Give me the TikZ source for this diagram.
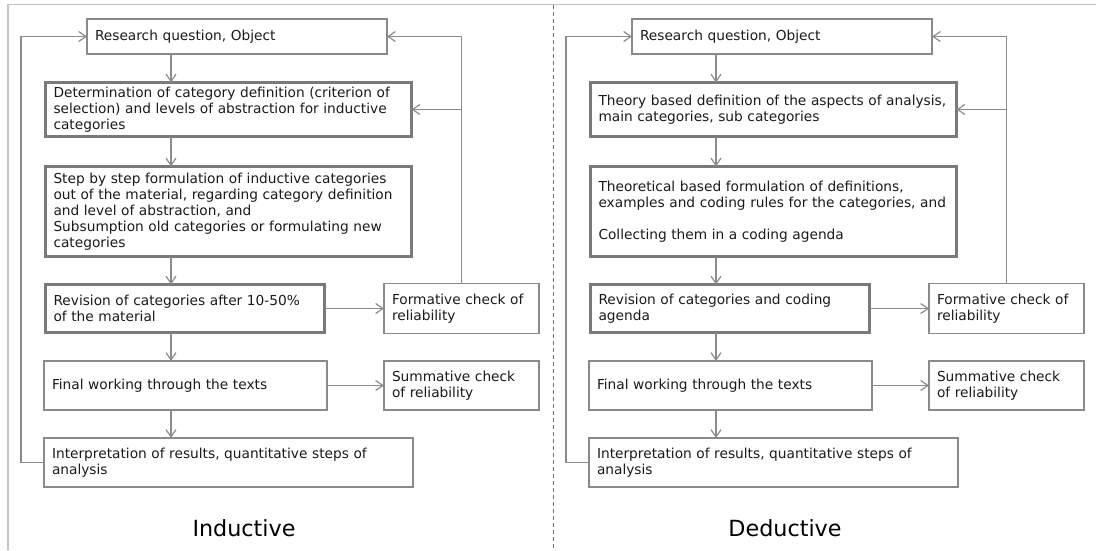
\documentclass[tikz,border=0pt]{standalone}
\usepackage{fontspec}
\setmainfont{DejaVu Sans}
\usetikzlibrary{arrows.meta}

\definecolor{boxline}{HTML}{8A8A8A}
\definecolor{heavyline}{HTML}{7A7A7A}
\definecolor{linkline}{HTML}{8C8C8C}
\definecolor{frameline}{HTML}{C4C4C4}
\definecolor{divline}{HTML}{6E6E6E}
\definecolor{ink}{HTML}{1A1A1A}

\tikzset{
  pbox/.style={draw=boxline, line width=1pt, rectangle, inner xsep=6pt, inner ysep=0pt,
    outer sep=0pt, align=left, text=ink, font=\fontsize{10.3pt}{12pt}\selectfont},
  hbox/.style={pbox, draw=heavyline, line width=2.25pt},
  sz/.style n args={3}{minimum width=#1pt, text width=#2pt, minimum height=#3pt},
  arr/.style={draw=linkline, line width=0.9pt, -{Straight Barb[length=5.5pt,width=7.5pt]}},
  frame/.style={draw=frameline, line width=1.1pt},
  divider/.style={draw=divline, line width=0.75pt, dash pattern=on 3pt off 2.25pt},
  caption/.style={text=black, font=\fontsize{16.7pt}{20pt}\selectfont, inner sep=0pt}
}

\begin{document}
\begin{tikzpicture}[x=0.75pt, y=-0.75pt]
\useasboundingbox (0,0) rectangle (1096,550);

% outer frame and panel divider
\draw[frame] (8,550) -- (8,4.5) -- (1096,4.5);
\draw[divider] (553,5) -- (553,550);

% ---------- inductive panel ----------
\node[pbox, sz={225}{213}{26.25}] (rq1) at (237,36.5) {Research question, Object};
\node[hbox, sz={274.5}{262.5}{40.5}] (det1) at (228.5,109.5)
  {Determination of category definition (criterion of\\ selection) and levels of abstraction for inductive\\ categories};
\node[hbox, sz={274.5}{262.5}{67.5}] (step1) at (228.5,211.5)
  {Step by step formulation of inductive categories\\ out of the material, regarding category definition\\ and level of abstraction, and\\ Subsumption old categories or formulating new\\ categories};
\node[hbox, sz={209.25}{197.25}{36}] (rev1) at (185,308.5)
  {Revision of categories after 10-50\%\\ of the material};
\node[pbox, sz={116.25}{104.25}{37.5}] (form1) at (461.5,308.5)
  {Formative check of\\ reliability};
\node[pbox, sz={212.25}{200.25}{36.75}] (fin1) at (185.5,385.5)
  {Final working through the texts};
\node[pbox, sz={116.25}{104.25}{36.75}] (sum1) at (461.5,385.5)
  {Summative check\\ of reliability};
\node[pbox, sz={276.75}{264.75}{36.75}] (int1) at (228.5,462.5)
  {Interpretation of results, quantitative steps of\\ analysis};
\node[caption] (lab1) at (244,528) {Inductive};

\coordinate (ax1) at (171,0);
\coordinate (lx1) at (21,0);
\draw[arr] (rq1.south -| ax1) -- (det1.north -| ax1);
\draw[arr] (det1.south -| ax1) -- (step1.north -| ax1);
\draw[arr] (step1.south -| ax1) -- (rev1.north -| ax1);
\draw[arr] (rev1.south -| ax1) -- (fin1.north -| ax1);
\draw[arr] (fin1.south -| ax1) -- (int1.north -| ax1);
\draw[arr] (rev1.east) -- (form1.west);
\draw[arr] (fin1.east) -- (sum1.west);
\draw[arr] (int1.west) -- (int1.west -| lx1) |- (rq1.west);
\draw[arr] (form1.north) |- (rq1.east);
\draw[arr] (form1.north |- det1.east) -- (det1.east);

% ---------- deductive panel ----------
\node[pbox, sz={225}{213}{26.25}] (rq2) at (782,36.5) {Research question, Object};
\node[hbox, sz={274.5}{262.5}{40.5}] (det2) at (773.5,109.5)
  {Theory based definition of the aspects of analysis,\\ main categories, sub categories};
\node[hbox, sz={274.5}{262.5}{67.5}] (step2) at (773.5,211.5)
  {Theoretical based formulation of definitions,\\ examples and coding rules for the categories, and\\[12pt] Collecting them in a coding agenda};
\node[hbox, sz={209.25}{197.25}{36}] (rev2) at (730,308.5)
  {Revision of categories and coding\\ agenda};
\node[pbox, sz={116.25}{104.25}{37.5}] (form2) at (1006.5,308.5)
  {Formative check of\\ reliability};
\node[pbox, sz={212.25}{200.25}{36.75}] (fin2) at (730.5,385.5)
  {Final working through the texts};
\node[pbox, sz={116.25}{104.25}{36.75}] (sum2) at (1006.5,385.5)
  {Summative check\\ of reliability};
\node[pbox, sz={276.75}{264.75}{36.75}] (int2) at (773.5,462.5)
  {Interpretation of results, quantitative steps of\\ analysis};
\node[caption] (lab2) at (785,528) {Deductive};

\coordinate (ax2) at (716,0);
\coordinate (lx2) at (566,0);
\draw[arr] (rq2.south -| ax2) -- (det2.north -| ax2);
\draw[arr] (det2.south -| ax2) -- (step2.north -| ax2);
\draw[arr] (step2.south -| ax2) -- (rev2.north -| ax2);
\draw[arr] (rev2.south -| ax2) -- (fin2.north -| ax2);
\draw[arr] (fin2.south -| ax2) -- (int2.north -| ax2);
\draw[arr] (rev2.east) -- (form2.west);
\draw[arr] (fin2.east) -- (sum2.west);
\draw[arr] (int2.west) -- (int2.west -| lx2) |- (rq2.west);
\draw[arr] (form2.north) |- (rq2.east);
\draw[arr] (form2.north |- det2.east) -- (det2.east);
\end{tikzpicture}
\end{document}
